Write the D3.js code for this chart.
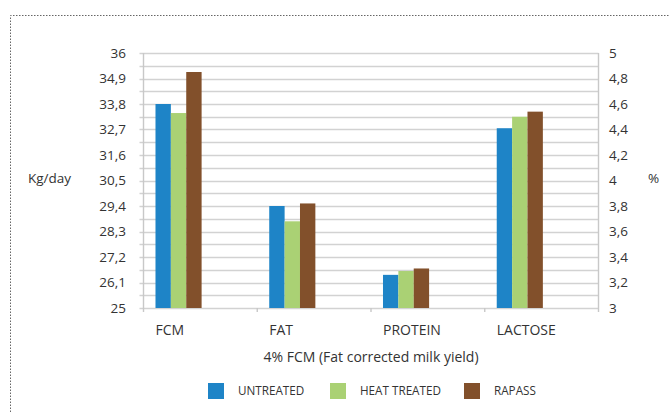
<!DOCTYPE html>
<html>
<head>
<meta charset="utf-8">
<script src="https://cdn.jsdelivr.net/npm/d3@7/dist/d3.min.js"></script>
<style>
  body { margin: 0; background: #fff; }
  text { font-family: "Open Sans", sans-serif; fill: #333; }
</style>
</head>
<body>
<div id="chart"></div>
<script>
// data
var categories = ["FCM", "FAT", "PROTEIN", "LACTOSE"]
var seriesNames = ["UNTREATED", "HEAT TREATED", "RAPASS"]
var seriesColors = ["#1e84c7", "#aad174", "#82502b"]
// FCM is in Kg/day (left axis), the rest in % (right axis)
var untreated = [33.8, 3.80, 3.26, 4.41]
var heatTreated = [33.41, 3.68, 3.29, 4.50]
var rapass = [35.18, 3.82, 3.31, 4.54]
var leftTicks = [25, 26.1, 27.2, 28.3, 29.4, 30.5, 31.6, 32.7, 33.8, 34.9, 36]
var rightTicks = [3, 3.2, 3.4, 3.6, 3.8, 4, 4.2, 4.4, 4.6, 4.8, 5]

var width = 670
var height = 412
var plotLeft = 143.5, plotRight = 598.5, plotTop = 53, plotBottom = 308

var svg = d3.select("#chart")
  .append("svg")
    .attr("width", width)
    .attr("height", height)

// dotted frame
svg.append("path")
  .attr("d", "M10.5," + height + "V15.5H" + width)
  .attr("fill", "none")
  .attr("stroke", "#666")
  .attr("stroke-dasharray", "1.5,1.5")

var yL = d3.scaleLinear().domain([25, 36]).range([plotBottom, plotTop])
var yR = d3.scaleLinear().domain([3, 5]).range([plotBottom, plotTop])

var x0 = d3.scaleBand().domain(categories).range([plotLeft, plotRight])
// 6 slots per category in the original (3 for each axis), only 3 are drawn
var slot = x0.bandwidth() / 7.4
var x1 = d3.scaleBand().domain(seriesNames).range([slot * 0.78, slot * 3.78])

// gridlines every 0.1 %
var gridVals = d3.range(0, 21).map(i => 3 + i * 0.1)
svg.append("g")
  .selectAll("line")
  .data(gridVals)
  .enter().append("line")
    .attr("x1", plotLeft - 4)
    .attr("x2", plotRight)
    .attr("y1", d => Math.round(yR(d)) + 0.5)
    .attr("y2", d => Math.round(yR(d)) + 0.5)
    .attr("stroke", "#d2d2d2")
    .attr("stroke-width", 1.4)

// axis lines
svg.append("line")
  .attr("x1", plotLeft).attr("x2", plotLeft)
  .attr("y1", plotTop).attr("y2", plotBottom)
  .attr("stroke", "#c8c8c8").attr("stroke-width", 1.4)
svg.append("line")
  .attr("x1", plotRight).attr("x2", plotRight)
  .attr("y1", plotTop).attr("y2", plotBottom)
  .attr("stroke", "#c8c8c8").attr("stroke-width", 1.4)

// category ticks under the x axis
svg.append("g")
  .selectAll("line")
  .data(categories.concat(["end"]))
  .enter().append("line")
    .attr("x1", (d, i) => plotLeft + i * x0.bandwidth())
    .attr("x2", (d, i) => plotLeft + i * x0.bandwidth())
    .attr("y1", plotBottom)
    .attr("y2", plotBottom + 4)
    .attr("stroke", "#c8c8c8")
    .attr("stroke-width", 1.4)

// bars
var rows = categories.map((c, i) => ({
  cat: c,
  vals: [untreated[i], heatTreated[i], rapass[i]]
}))

svg.append("g")
  .selectAll("g")
  .data(rows)
  .enter().append("g")
    .attr("transform", d => "translate(" + x0(d.cat) + ",0)")
  .selectAll("rect")
  .data(d => d.vals.map((v, j) => ({cat: d.cat, key: seriesNames[j], v: v, j: j})))
  .enter().append("rect")
    .attr("x", d => x1(d.key))
    .attr("width", x1.bandwidth())
    .attr("y", d => d.cat == "FCM" ? yL(d.v) : yR(d.v))
    .attr("height", d => plotBottom - (d.cat == "FCM" ? yL(d.v) : yR(d.v)))
    .style("fill", d => seriesColors[d.j])

// tick labels
svg.append("g")
  .selectAll("text")
  .data(leftTicks)
  .enter().append("text")
    .attr("x", 126)
    .attr("y", d => yL(d))
    .attr("dy", "0.35em")
    .attr("text-anchor", "end")
    .style("font-size", "13.5px")
    .text(d => String(d).replace(".", ","))

svg.append("g")
  .selectAll("text")
  .data(rightTicks)
  .enter().append("text")
    .attr("x", 609)
    .attr("y", d => yR(d))
    .attr("dy", "0.35em")
    .style("font-size", "13.5px")
    .text(d => String(d).replace(".", ","))

// category labels, left aligned with the bar groups
svg.append("g")
  .selectAll("text")
  .data(categories)
  .enter().append("text")
    .attr("x", d => x0(d) + x1(seriesNames[0]))
    .attr("y", 330)
    .attr("dy", "0.35em")
    .style("font-size", "14px")
    .text(d => d)

svg.append("text")
  .attr("x", (plotLeft + plotRight) / 2)
  .attr("y", 357)
  .attr("dy", "0.35em")
  .attr("text-anchor", "middle")
  .style("font-size", "14px")
  .text("4% FCM (Fat corrected milk yield)")

svg.append("text")
  .attr("x", 28)
  .attr("y", 178)
  .attr("dy", "0.35em")
  .style("font-size", "13.5px")
  .text("Kg/day")

svg.append("text")
  .attr("x", 648)
  .attr("y", 178)
  .attr("dy", "0.35em")
  .style("font-size", "13.5px")
  .text("%")

/// Legend
var size = 16
var legendX = [208, 330, 464]
svg.selectAll("legdots")
  .data(seriesNames)
  .enter().append("rect")
    .attr("x", (d, i) => legendX[i])
    .attr("y", 391 - size / 2)
    .attr("width", size)
    .attr("height", size)
    .style("fill", (d, i) => seriesColors[i])

svg.selectAll("leglabels")
  .data(seriesNames)
  .enter().append("text")
    .attr("x", (d, i) => legendX[i] + 30)
    .attr("y", 391)
    .attr("dy", "0.35em")
    .style("font-size", "11.7px")
    .text(d => d)
</script>
</body>
</html>
